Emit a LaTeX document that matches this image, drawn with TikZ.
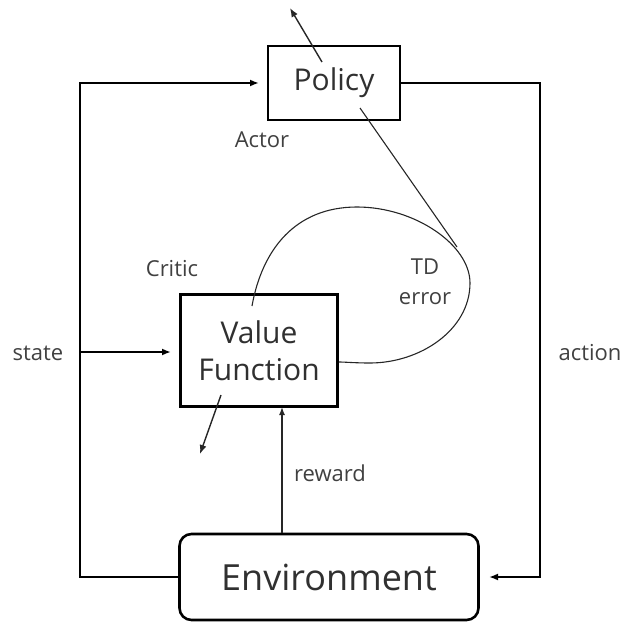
\documentclass[tikz,border=0pt]{standalone}
\usepackage{fontspec}
\setmainfont{Open Sans}
\usetikzlibrary{arrows.meta}
\definecolor{txt}{HTML}{404040}
\definecolor{boxtxt}{HTML}{303030}
\begin{document}
\begin{tikzpicture}[x=1pt,y=-1pt,
  boxstyle/.style={draw=black,line width=2.6pt,inner sep=0pt,text=boxtxt},
  lbl/.style={text=txt,font=\fontsize{22}{26}\selectfont,inner sep=0pt},
  conn/.style={line width=2.2pt,black},
  thinline/.style={line width=1.1pt,black!85},
  tip/.style={-{Latex[length=9pt,width=7pt]}}
]
\useasboundingbox (0,0) rectangle (624,623);
% boxes
\node[boxstyle,minimum width=132pt,minimum height=74pt,font=\fontsize{30}{34}\selectfont] (policy) at (334,83) {Policy};
\node[boxstyle,minimum width=157pt,minimum height=112pt,align=center,font=\fontsize{30}{37}\selectfont] (vf) at (259,350.5) {Value\\Function};
\node[boxstyle,rounded corners=12pt,minimum width=299pt,minimum height=86pt,font=\fontsize{36}{40}\selectfont] (env) at (329,577) {Environment};
% labels
\node[lbl] (actor) at (262,140) {Actor};
\node[lbl] (critic) at (172,269) {Critic};
\node[lbl,align=center,font=\fontsize{22}{30}\selectfont] (td) at (425,282) {TD\\error};
\node[lbl] (state) at (38,353) {state};
\node[lbl] (action) at (590,353) {action};
\node[lbl] (reward) at (330,473) {reward};
% coordinates
\coordinate (lt) at (80,83);
\coordinate (lb) at (80,577);
\coordinate (ls) at (80,352);
\coordinate (rt) at (540,83);
\coordinate (rb) at (540,577);
\coordinate (pin) at (259,83);
\coordinate (vin) at (171,352);
\coordinate (ein) at (489,577);
% main loop
\draw[conn,line cap=rect] (env.west) -- (lb) -- (lt);
\draw[conn,tip] (lt) -- (pin);
\draw[conn,tip] (ls) -- (vin);
\draw[conn,tip] (policy.east) -- (rt) -- (rb) -- (ein);
% reward
\draw[thinline,line width=1.4pt,-{Latex[length=8pt,width=6pt]}] (env.north -| 282,0) -- (282,407);
% actor/critic outputs
\coordinate (pa) at (322,62);
\coordinate (pt) at (290,8);
\draw[thinline,line width=1.4pt,-{Latex[length=9pt,width=7pt]}] (pa) -- (pt);
\coordinate (va) at (221,395);
\coordinate (vt) at (200,454);
\draw[thinline,line width=1.4pt,-{Latex[length=9pt,width=7pt]}] (va) -- (vt);
% TD error loop
\coordinate (c0) at (252,306);
\coordinate (c1) at (357,207);
\coordinate (c2) at (470,283);
\coordinate (c3) at (370,363);
\draw[thinline] (c0) .. controls (262,250) and (295,207) .. (c1)
  .. controls (415,207) and (470,245) .. (c2)
  .. controls (470,330) and (420,363) .. (c3)
  .. controls (355,363) and (345,362) .. (vf.east |- 0,362);
% policy to TD
\coordinate (pl) at (360,108);
\coordinate (pe) at (457,247);
\draw[thinline] (pl) -- (pe);
\end{tikzpicture}
\end{document}
